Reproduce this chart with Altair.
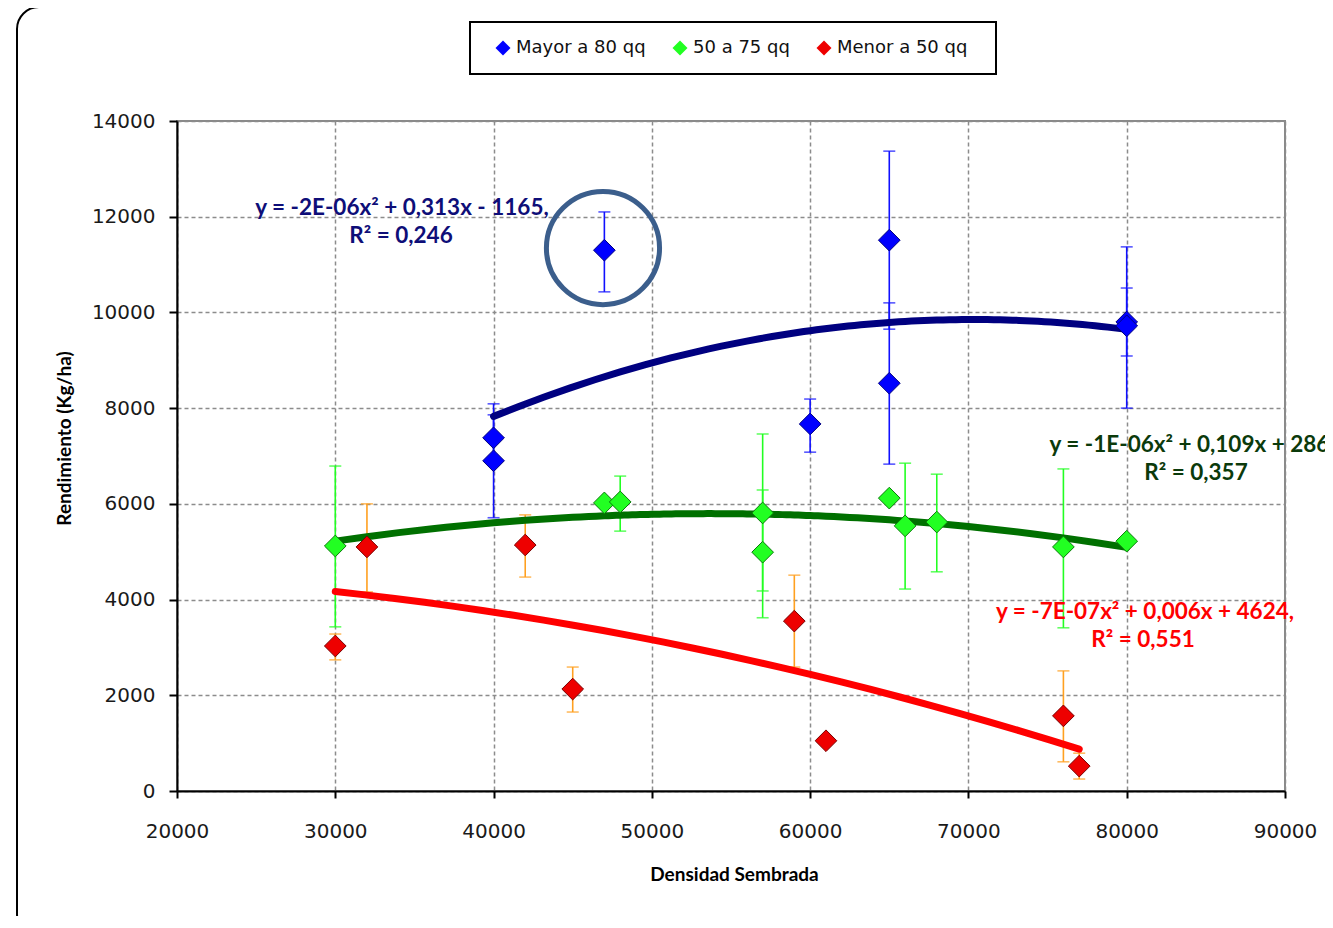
import altair as alt
import pandas as pd

series_names = ["Mayor a 80 qq", "50 a 75 qq", "Menor a 50 qq"]
fill_colors = ["#0000FF", "#22FF22", "#EE0000"]
edge_colors = ["#000080", "#0A7A0A", "#7A0000"]
bar_colors = ["#1010FF", "#22FF22", "#FFA020"]
trend_colors = ["#000080", "#007000", "#FF0000"]

# Mayor a 80 qq
blue_x = [40000, 40000, 47000, 60000, 65000, 65000, 80000, 80000]
blue_y = [7380, 6900, 11300, 7670, 11510, 8520, 9800, 9720]
blue_lo = [6900, 5710, 10430, 7080, 9650, 6830, 9090, 8000]
blue_hi = [7860, 8090, 12100, 8190, 13370, 10200, 10510, 11370]

# 50 a 75 qq
green_x = [30000, 47000, 48000, 57000, 57000, 65000, 66000, 68000, 76000, 80000]
green_y = [5120, 6020, 6040, 5810, 4990, 6120, 5540, 5620, 5100, 5220]
green_lo = [3430, None, 5430, 4180, 3620, None, 4220, 4580, 3410, None]
green_hi = [6790, None, 6580, 7460, 6290, None, 6850, 6620, 6730, None]

# Menor a 50 qq
red_x = [30000, 32000, 42000, 45000, 59000, 61000, 76000, 77000]
red_y = [3030, 5100, 5140, 2130, 3550, 1050, 1570, 520]
red_lo = [2740, 4160, 4470, 1650, 2590, 980, 610, 250]
red_hi = [3280, 6000, 5770, 2590, 4510, 1120, 2510, 790]

x_ticks = [20000, 30000, 40000, 50000, 60000, 70000, 80000, 90000]
y_ticks = [0, 2000, 4000, 6000, 8000, 10000, 12000, 14000]

ann_text = ["y = -2E-06x² + 0,313x - 1165,", "R² = 0,246",
            "y = -1E-06x² + 0,109x + 2863", "R² = 0,357",
            "y = -7E-07x² + 0,006x + 4624,", "R² = 0,551"]
ann_x = [34214, 34150, 84376, 84376, 81155, 81030]
ann_y = [12182, 11597, 7230, 6645, 3740, 3155]
ann_color = ["#0E0E78", "#0E0E78", "#0B3A0B", "#0B3A0B", "#FF0000", "#FF0000"]

circle_x = [46912]
circle_y = [11345]

rows = []
for name, xs, ys, los, his in [
    (series_names[0], blue_x, blue_y, blue_lo, blue_hi),
    (series_names[1], green_x, green_y, green_lo, green_hi),
    (series_names[2], red_x, red_y, red_lo, red_hi),
]:
    for a, b, c, d in zip(xs, ys, los, his):
        rows.append({"series": name, "x": a, "y": b, "lo": c, "hi": d})
df = pd.DataFrame(rows)

ann_df = pd.DataFrame({"x": ann_x, "y": ann_y, "text": ann_text, "color": ann_color})
circ_df = pd.DataFrame({"x": circle_x, "y": circle_y})

XT = "Densidad Sembrada"
YT = "Rendimiento (Kg/ha)"
xscale = alt.Scale(domain=[20000, 90000], nice=False, zero=False)
yscale = alt.Scale(domain=[0, 14000], nice=False)


def X(f):
    return alt.X(f + ":Q", scale=xscale, title=XT,
                 axis=alt.Axis(values=x_ticks, format="d", tickSize=7, labelFlush=False,
                               labelPadding=23, titlePadding=24, titleX=557))


def Y(f):
    return alt.Y(f + ":Q", scale=yscale, title=YT,
                 axis=alt.Axis(values=y_ticks, format="d", tickSize=8, labelFlush=False,
                               labelPadding=14, titlePadding=17, titleY=317))


base = alt.Chart(df)
layers = []

# decorations: outer frame and legend box
one = alt.Data(values=[{"a": 1}])
frame = alt.Chart(one).mark_rect(fill="transparent", stroke="black", strokeWidth=2,
                                 cornerRadius=22).encode(
    x=alt.value(-160), x2=alt.value(1300), y=alt.value(-114), y2=alt.value(815))
legend_box = alt.Chart(one).mark_rect(fill="transparent", stroke="black", strokeWidth=2).encode(
    x=alt.value(293), x2=alt.value(819), y=alt.value(-99), y2=alt.value(-47))
layers += [frame, legend_box]

# error bars
for name, c in zip(series_names, bar_colors):
    sub = base.transform_filter(alt.datum.series == name).transform_filter("isValid(datum.lo)")
    layers.append(sub.mark_rule(color=c, strokeWidth=1.6).encode(x=X("x"), y=Y("lo"), y2="hi:Q"))
    layers.append(sub.mark_tick(color=c, orient="horizontal", size=12, thickness=1.6).encode(x=X("x"), y=Y("lo")))
    layers.append(sub.mark_tick(color=c, orient="horizontal", size=12, thickness=1.6).encode(x=X("x"), y=Y("hi")))

# polynomial trend lines
for name, c in zip(series_names, trend_colors):
    layers.append(
        base.transform_filter(alt.datum.series == name)
        .transform_regression("x", "y", method="poly", order=2)
        .mark_line(color=c, strokeWidth=7, strokeCap="round")
        .encode(x=X("x"), y=Y("y"))
    )

# points
points = base.mark_point(shape="diamond", filled=True, size=470, opacity=1, strokeWidth=1).encode(
    x=X("x"), y=Y("y"),
    fill=alt.Fill("series:N", scale=alt.Scale(domain=series_names, range=fill_colors),
                  legend=alt.Legend(orient="none", legendX=317, legendY=-82, direction="horizontal",
                                    title=None, labelFont="DejaVu Sans", labelFontSize=18,
                                    labelColor="#111111", symbolType="diamond", symbolSize=225,
                                    symbolStrokeWidth=0, labelOffset=4, columnPadding=25,
                                    padding=0)),
    stroke=alt.Stroke("series:N", scale=alt.Scale(domain=series_names, range=edge_colors), legend=None),
)
layers.append(points)

# highlight circle
layers.append(alt.Chart(circ_df).mark_point(shape="circle", filled=False, size=12800,
                                            strokeWidth=5, color="#3B5E8C", opacity=1)
              .encode(x=X("x"), y=Y("y")))

# equation labels
layers.append(alt.Chart(ann_df).mark_text(font="Lato", fontWeight="bold", fontSize=22.5,
                                          align="center", baseline="middle")
              .encode(x=X("x"), y=Y("y"), text="text:N", color=alt.Color("color:N", scale=None)))

chart = alt.layer(*layers).properties(
    width=1108, height=670,
    autosize=alt.AutoSizeParams(type="none"),
    padding={"left": 169, "top": 113, "right": 40, "bottom": 125},
).configure_view(stroke="#8a8a8a", strokeWidth=2).configure_axis(
    grid=True, gridColor="#8c8c8c", gridDash=[4, 3], gridWidth=1.5,
    domainColor="black", domainWidth=2, tickColor="black", tickWidth=2,
    labelFont="DejaVu Sans", labelFontSize=20, labelColor="#1a1a1a",
    titleFont="Lato", titleFontWeight="bold", titleFontSize=19, titleColor="black",
)

chart.save("out.html", embed_options={"renderer": "svg", "actions": False})
